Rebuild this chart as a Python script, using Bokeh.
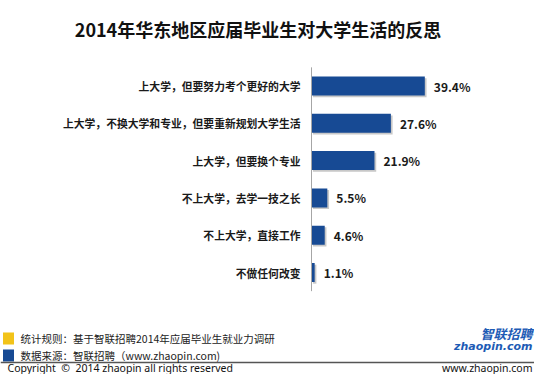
from bokeh.plotting import figure
from bokeh.models import Range1d, Label, ColumnDataSource
from bokeh.transform import dodge
from bokeh.core.properties import value
from bokeh.embed import file_html
from bokeh.resources import INLINE

# ---- data ----
categories = [
    "上大学，但要努力考个更好的大学",
    "上大学，不换大学和专业，但要重新规划大学生活",
    "上大学，但要换个专业",
    "不上大学，去学一技之长",
    "不上大学，直接工作",
    "不做任何改变",
]
values = [39.4, 27.6, 21.9, 5.5, 4.6, 1.1]
value_labels = ["%.1f%%" % v for v in values]

title_text = "2014年华东地区应届毕业生对大学生活的反思"
note_rule = "统计规则：基于智联招聘2014年应届毕业生就业力调研"
note_source = "数据来源：智联招聘（www.zhaopin.com)"
copyright_text = "Copyright \u00a0©\u00a0 2014 zhaopin all rights reserved"
site_text = "www.zhaopin.com"

# ---- layout geometry ----
W, H = 534, 374
AX = 311.0      # pixel of value axis
SX = 2.876      # px per percent
C0 = 85.5       # pixel of first bar centre
SY = 37.3       # px per category
X0, X1 = -AX / SX, (W - AX) / SX
Y_TOP, Y_BOT = -C0 / SY, (H - C0) / SY


def dx(px):
    return (px - AX) / SX


def dy(py):
    return (py - C0) / SY


CJK = "Noto Sans CJK SC"
BLUE = "#174A94"
TXT = "#1a1a1a"

src = ColumnDataSource(dict(
    y=list(range(len(categories))),
    v=values,
    zero=[0] * len(values),
    cat=categories,
    lab=value_labels,
))

p = figure(width=W, height=H, x_range=Range1d(X0, X1), y_range=Range1d(Y_BOT, Y_TOP),
           output_backend="svg", toolbar_location=None, min_border=0,
           x_axis_type=None, y_axis_type=None, outline_line_color=None,
           background_fill_color="white", border_fill_color="white")
p.grid.visible = False

# shadow
p.hbar(y=dodge("y", 0.045), left=dodge("zero", 0.5), right=dodge("v", 0.6), height=0.51,
       source=src, fill_color="#9a9a9a", fill_alpha=0.55, line_color=None)
# bars
p.hbar(y="y", left="zero", right="v", height=0.51, source=src,
       fill_color=BLUE, line_color=None)

# axis line
n = len(categories)
p.segment(x0=[0], x1=[0], y0=[-0.5], y1=[n - 0.5], line_color="#a6a6a6", line_width=1)

# category labels
p.text(x="zero", y="y", text="cat", source=src, x_offset=-11, text_align="right",
       text_baseline="middle", text_font=value(CJK), text_font_size="10.8px",
       text_font_style="bold", text_color=TXT)
# value labels
p.text(x="v", y="y", text="lab", source=src, x_offset=9, text_align="left",
       text_baseline="middle", text_font=value(CJK), text_font_size="12px",
       text_font_style="bold", text_color=TXT)

# title
p.add_layout(Label(x=dx(257.5), y=dy(28), text=title_text, text_align="center",
                   text_baseline="middle", text_font=CJK, text_font_size="18px",
                   text_font_style="bold", text_color="#111111"))

# footnotes
p.rect(x=[dx(8)], y=[dy(338)], width=11, height=12, width_units="screen",
       height_units="screen", fill_color="#F2C319", line_color=None)
p.rect(x=[dx(8)], y=[dy(355)], width=11, height=12, width_units="screen",
       height_units="screen", fill_color="#174A94", line_color=None)
p.add_layout(Label(x=dx(20), y=dy(338), text=note_rule, text_align="left",
                   text_baseline="middle", text_font=CJK, text_font_size="10.5px",
                   text_color="#222222"))
p.add_layout(Label(x=dx(20), y=dy(355), text=note_source, text_align="left",
                   text_baseline="middle", text_font=CJK, text_font_size="10.5px",
                   text_color="#222222"))

# logo
p.add_layout(Label(x=dx(532), y=dy(333), text="智联招聘", text_align="right",
                   text_baseline="middle", text_font=CJK, text_font_size="13px",
                   text_font_style="bold italic", text_color="#1d5bb5"))
p.add_layout(Label(x=dx(532), y=dy(346), text="zhaopin.com", text_align="right",
                   text_baseline="middle", text_font="DejaVu Sans", text_font_size="11px",
                   text_font_style="bold italic", text_color="#1d5bb5"))

# bottom rule
p.segment(x0=[X0], x1=[X1], y0=[dy(362)], y1=[dy(362)], line_color="#555555", line_width=1.3)

p.add_layout(Label(x=dx(7), y=dy(367.5), text=copyright_text, text_align="left",
                   text_baseline="middle", text_font="Noto Sans", text_font_size="10.5px",
                   text_color="#111111"))
p.add_layout(Label(x=dx(532), y=dy(367.5), text=site_text, text_align="right",
                   text_baseline="middle", text_font="Noto Sans", text_font_size="10.5px",
                   text_color="#111111"))

open("out.html", "w").write(file_html(p, INLINE))
